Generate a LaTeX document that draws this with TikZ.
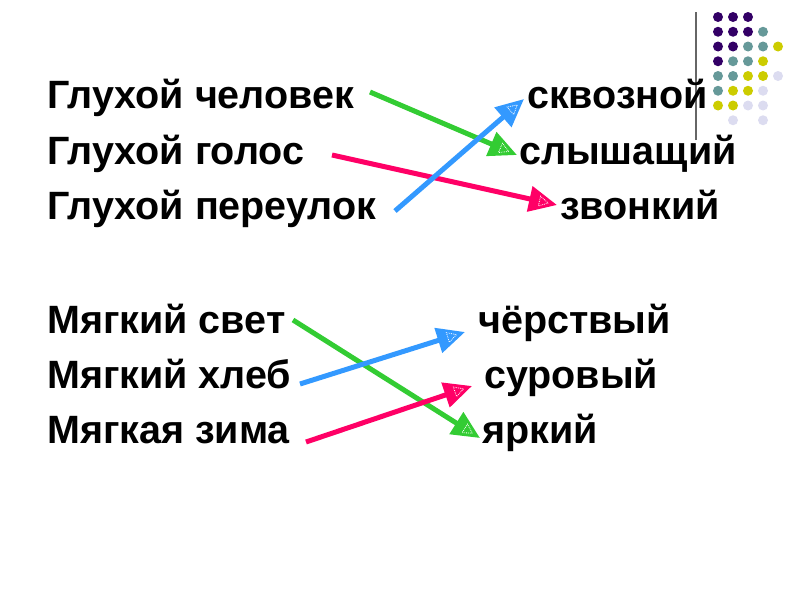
\documentclass[tikz,border=0pt]{standalone}
\usepackage{fontspec}
\setmainfont{Liberation Sans}
\usetikzlibrary{arrows.meta,calc}
\definecolor{dpurple}{HTML}{330066}
\definecolor{dteal}{HTML}{669999}
\definecolor{dyellow}{HTML}{CCCC00}
\definecolor{dlav}{HTML}{DCDCF0}
\definecolor{agreen}{HTML}{33CC33}
\definecolor{ablue}{HTML}{3399FF}
\definecolor{ared}{HTML}{FF0066}
\tikzset{
  word/.style={anchor=base west, inner sep=0pt, font=\fontsize{39.5}{44}\bfseries\selectfont},
  conn/.style={line width=5pt, -{Triangle[length=28pt,width=25pt]}},
  inner/.style={white, line width=0.8pt, densely dotted},
}
\newcommand{\headmark}[2]{%
  \path let \p1=($(#2)-(#1)$), \n1={atan2(\y1,\x1)} in
    [shift={(#2)}, rotate=\n1] coordinate (tmp);
  \draw[inner] let \p1=($(#2)-(#1)$), \n1={atan2(\y1,\x1)} in
    [shift={(#2)}, rotate=\n1] (-9,0) -- (-18,5) -- (-18,-5) -- cycle;
}
\begin{document}
\begin{tikzpicture}[x=1pt,y=-1pt]
\useasboundingbox (0,0) rectangle (800,600);
% decoration
\draw[line width=1.3pt, black!60] (696,12) -- (696,140);
\foreach \c/\x/\y in {dpurple/0/0,dpurple/1/0,dpurple/2/0,
 dpurple/0/1,dpurple/1/1,dpurple/2/1,dteal/3/1,
 dpurple/0/2,dpurple/1/2,dteal/2/2,dteal/3/2,dyellow/4/2,
 dpurple/0/3,dteal/1/3,dteal/2/3,dyellow/3/3,
 dteal/0/4,dteal/1/4,dyellow/2/4,dyellow/3/4,dlav/4/4,
 dteal/0/5,dyellow/1/5,dyellow/2/5,dlav/3/5,
 dyellow/0/6,dyellow/1/6,dlav/2/6,dlav/3/6,
 dlav/1/7,dlav/3/7}
  \fill[\c] (718+15*\x,17+14.75*\y) circle (5);
% words
\node[word] (l1) at (47,108) {Глухой человек};
\node[word] (l2) at (47,164) {Глухой голос};
\node[word] (l3) at (47,219) {Глухой переулок};
\node[word] (l4) at (47,333) {Мягкий свет};
\node[word] (l5) at (47,388) {Мягкий хлеб};
\node[word] (l6) at (47,443) {Мягкая зима};
\node[word] (r1) at (527,108) {сквозной};
\node[word] (r2) at (519,164) {слышащий};
\node[word] (r3) at (560,219) {звонкий};
\node[word] (r4) at (478,333) {чёрствый};
\node[word] (r5) at (484,388) {суровый};
\node[word] (r6) at (482,443) {яркий};
% arrow ends
\coordinate (g1s) at (370,92);  \coordinate (g1e) at (517,155);
\coordinate (b1s) at (395,211); \coordinate (b1e) at (524,99);
\coordinate (r1s) at (332,155); \coordinate (r1e) at (557,205);
\coordinate (g2s) at (293,320); \coordinate (g2e) at (480,438);
\coordinate (b2s) at (300,384); \coordinate (b2e) at (465,332);
\coordinate (r2s) at (306,442); \coordinate (r2e) at (472,386);
\draw[conn, agreen] (g1s) -- (g1e);
\headmark{g1s}{g1e}
\draw[conn, ared] (r1s) -- (r1e);
\headmark{r1s}{r1e}
\draw[conn, ablue] (b1s) -- (b1e);
\headmark{b1s}{b1e}
\draw[conn, agreen] (g2s) -- (g2e);
\headmark{g2s}{g2e}
\draw[conn, ablue] (b2s) -- (b2e);
\headmark{b2s}{b2e}
\draw[conn, ared] (r2s) -- (r2e);
\headmark{r2s}{r2e}
\end{tikzpicture}
\end{document}
